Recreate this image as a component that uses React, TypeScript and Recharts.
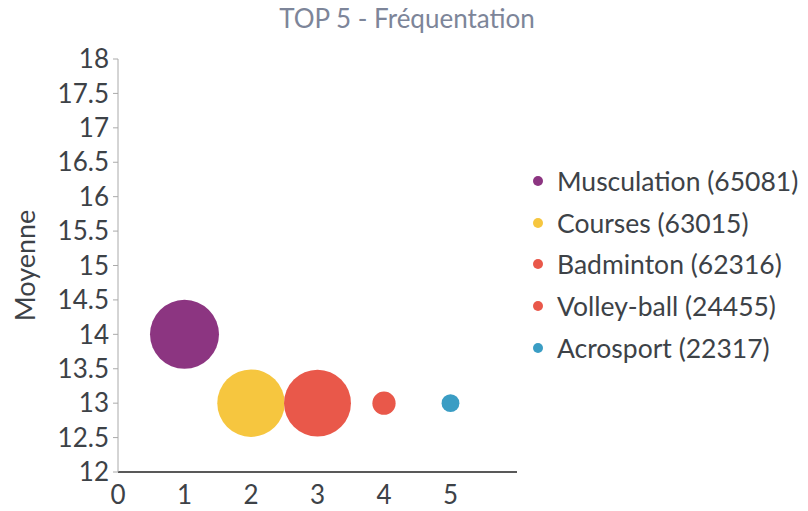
import { Legend, Scatter, ScatterChart, XAxis, YAxis, ZAxis } from "recharts";

const SPORTS = ["Musculation", "Courses", "Badminton", "Volley-ball", "Acrosport"];
const RANKS = [1, 2, 3, 4, 5];
const MEANS = [14, 13, 13, 13, 13];
const COUNTS = [65081, 63015, 62316, 24455, 22317];
const COLORS = ["#8c3581", "#f6c63f", "#e9584a", "#e9584a", "#3a9dc4"];

const X_TICKS = [0, 1, 2, 3, 4, 5];
const Y_TICKS = [12, 12.5, 13, 13.5, 14, 14.5, 15, 15.5, 16, 16.5, 17, 17.5, 18];

const FONT = "Lato, 'Open Sans', sans-serif";
const TEXT = "#3d4247";

type Item = { name: string; color: string };

function LegendList({ items }: { items: Item[] }) {
  return (
    <div style={{ fontFamily: FONT }}>
      {items.map((it) => (
        <div
          key={it.name}
          style={{ display: "flex", alignItems: "center", height: 41.75, fontSize: 26.5, color: TEXT, whiteSpace: "nowrap" }}
        >
          <span
            style={{
              width: 10,
              height: 10,
              borderRadius: "50%",
              background: it.color,
              marginRight: 14,
              marginLeft: 3,
              flexShrink: 0,
            }}
          />
          {it.name}
        </div>
      ))}
    </div>
  );
}

export default function App() {
  const series = SPORTS.map((s, i) => ({
    name: `${s} (${COUNTS[i]})`,
    color: COLORS[i],
    data: [{ x: RANKS[i], y: MEANS[i], z: COUNTS[i] }],
  }));

  return (
    <div style={{ position: "absolute", left: 0, top: 0, width: 808, height: 511, background: "#fff" }}>
      <div
        style={{
          position: "absolute",
          top: 2,
          left: 0,
          width: 814,
          textAlign: "center",
          fontFamily: FONT,
          fontSize: 26,
          color: "#7d8599",
        }}
      >
        TOP 5 - Fréquentation
      </div>
      <ScatterChart width={808} height={511} margin={{ top: 59, right: 291, bottom: 0, left: 0 }}>
        <XAxis
          dataKey="x"
          type="number"
          domain={[0, 6]}
          ticks={X_TICKS}
          interval={0}
          height={39}
          tickLine={false}
          axisLine={{ stroke: "#222", strokeWidth: 1.5 }}
          tick={{ fontSize: 26, fill: TEXT, fontFamily: FONT }}
          tickMargin={8}
        />
        <YAxis
          dataKey="y"
          type="number"
          domain={[12, 18]}
          ticks={Y_TICKS}
          interval={0}
          width={118}
          tickSize={5}
          tickLine={{ stroke: "#aaa" }}
          axisLine={{ stroke: "#aaa" }}
          tick={{ fontSize: 26, fill: TEXT, fontFamily: FONT }}
          tickMargin={4}
          label={{
            value: "Moyenne",
            angle: -90,
            position: "insideLeft",
            offset: 25,
            fontSize: 27,
            fill: TEXT,
            fontFamily: FONT,
            style: { textAnchor: "middle" },
          }}
        />
        <ZAxis dataKey="z" type="number" domain={[22317, 65081]} range={[250, 3740]} />
        <Legend
          layout="horizontal"
          verticalAlign="middle"
          wrapperStyle={{ left: 530, top: 160, width: 278 }}
          content={() => <LegendList items={series} />}
        />
        {series.map((s) => (
          <Scatter key={s.name} name={s.name} data={s.data} fill={s.color} isAnimationActive={false} />
        ))}
      </ScatterChart>
    </div>
  );
}
